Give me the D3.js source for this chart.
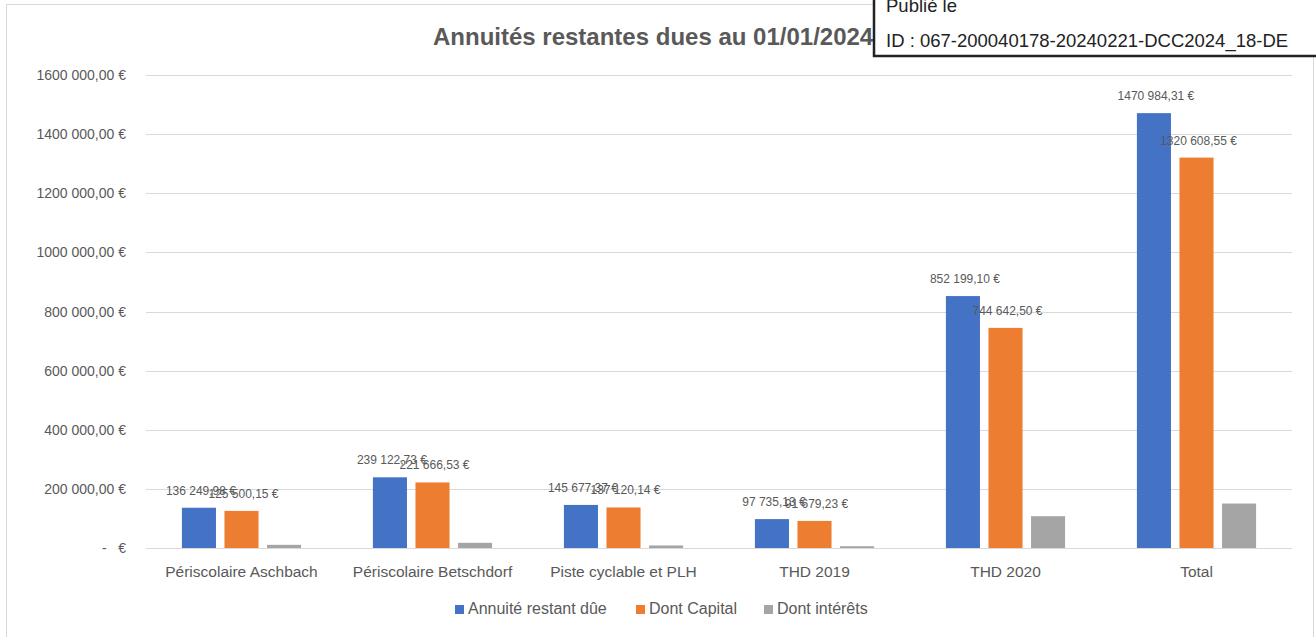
<!DOCTYPE html>
<html><head><meta charset="utf-8">
<script src="https://cdn.jsdelivr.net/npm/d3@7"></script>
<style>body{margin:0;background:#fff;overflow:hidden}</style>
</head><body>
<svg id="c" width="1316" height="637"></svg>
<script>
const categories = ["Périscolaire Aschbach","Périscolaire Betschdorf","Piste cyclable et PLH","THD 2019","THD 2020","Total"];
const seriesNames = ["Annuité restant dûe","Dont Capital","Dont intérêts"];
const annuite = [136249.98, 239122.73, 145677.37, 97735.13, 852199.10, 1470984.31];
const capital = [125500.15, 221666.53, 137120.14, 91679.23, 744642.50, 1320608.55];
const interets = [10749.83, 17456.20, 8557.23, 6055.90, 107556.60, 150375.76];
const yTicks = [0,200000,400000,600000,800000,1000000,1200000,1400000,1600000];
const colors = ["#4472C4","#ED7D31","#A5A5A5"];
const showLabel = [true,true,false];
const series = [annuite, capital, interets];

(function(){
const svg = d3.select("#c");
const font = "'Liberation Sans', Arial, sans-serif";
const grey = "#595959";

svg.append("rect").attr("x",6.5).attr("y",4.5).attr("width",1307).attr("height",640)
  .attr("fill","#fff").attr("stroke","#D9D9D9");

const pLeft = 146, pRight = 1292, pTop = 75, pBottom = 548;
const y = d3.scaleLinear().domain([0,1600000]).range([pBottom, pTop]);
const x0 = d3.scaleBand().domain(categories).range([pLeft,pRight]).paddingInner(0.376).paddingOuter(0.188);
const x1 = d3.scaleBand().domain(seriesNames).range([0,x0.bandwidth()]).paddingInner(0.2).paddingOuter(0);

const group = s => s.length > 6 ? s.slice(0,s.length-3) + " " + s.slice(-3) : s.replace(/\B(?=(\d{3})+(?!\d))/g, " ");
const fmt = v => {
  if (v === 0) return "-   €";
  const s = v.toFixed(2).split(".");
  return group(s[0]) + "," + s[1] + " €";
};

svg.append("g").selectAll("line").data(yTicks).join("line")
  .attr("x1",pLeft).attr("x2",pRight)
  .attr("y1",d=>Math.round(y(d))+0.5).attr("y2",d=>Math.round(y(d))+0.5)
  .attr("stroke","#D9D9D9").attr("stroke-width",1);

svg.append("g").selectAll("text").data(yTicks).join("text")
  .attr("x",126).attr("y",d=>y(d)+5)
  .attr("text-anchor","end").attr("font-family",font).attr("font-size",14)
  .attr("fill",grey).attr("xml:space","preserve").style("white-space","pre").text(d=>fmt(d));

series.forEach((vals,si)=>{
  const g = svg.append("g");
  g.selectAll("rect").data(categories).join("rect")
    .attr("x",(c)=>x0(c)+x1(seriesNames[si]))
    .attr("y",(c,i)=>y(vals[i]))
    .attr("width",x1.bandwidth())
    .attr("height",(c,i)=>y(0)-y(vals[i]))
    .attr("fill",colors[si]);
  if (showLabel[si]) {
    g.selectAll("text").data(categories).join("text")
      .attr("x",(c)=>x0(c)+x1(seriesNames[si])+x1.bandwidth()/2+2)
      .attr("y",(c,i)=>y(vals[i])-13)
      .attr("text-anchor","middle").attr("font-family",font).attr("font-size",12)
      .attr("fill",grey).text((c,i)=>fmt(vals[i]));
  }
});

svg.append("g").selectAll("text").data(categories).join("text")
  .attr("x",c=>x0(c)+x0.bandwidth()/2).attr("y",577)
  .attr("text-anchor","middle").attr("font-family",font).attr("font-size",15.5)
  .attr("fill",grey).text(c=>c);

svg.append("text").attr("x",433).attr("y",45).attr("text-anchor","start")
  .attr("font-family",font).attr("font-weight","bold").attr("font-size",24)
  .attr("fill",grey).text("Annuités restantes dues au 01/01/2024");

const legX = [455, 636, 764];
const lg = svg.append("g");
seriesNames.forEach((n,i)=>{
  lg.append("rect").attr("x",legX[i]).attr("y",605).attr("width",9).attr("height",9).attr("fill",colors[i]);
  lg.append("text").attr("x",legX[i]+13).attr("y",614).attr("font-family",font).attr("font-size",16)
    .attr("fill",grey).text(n);
});

const box = svg.append("g");
box.append("rect").attr("x",874).attr("y",-10).attr("width",460).attr("height",66)
  .attr("fill","#fff").attr("stroke","#222").attr("stroke-width",2.5);
box.append("text").attr("x",886).attr("y",12).attr("font-family",font).attr("font-size",18.5)
  .attr("fill","#222").text("Publié le");
box.append("text").attr("x",886).attr("y",47).attr("font-family",font).attr("font-size",18.5)
  .attr("fill","#222").text("ID : 067-200040178-20240221-DCC2024_18-DE");
})();
</script>
</body></html>
